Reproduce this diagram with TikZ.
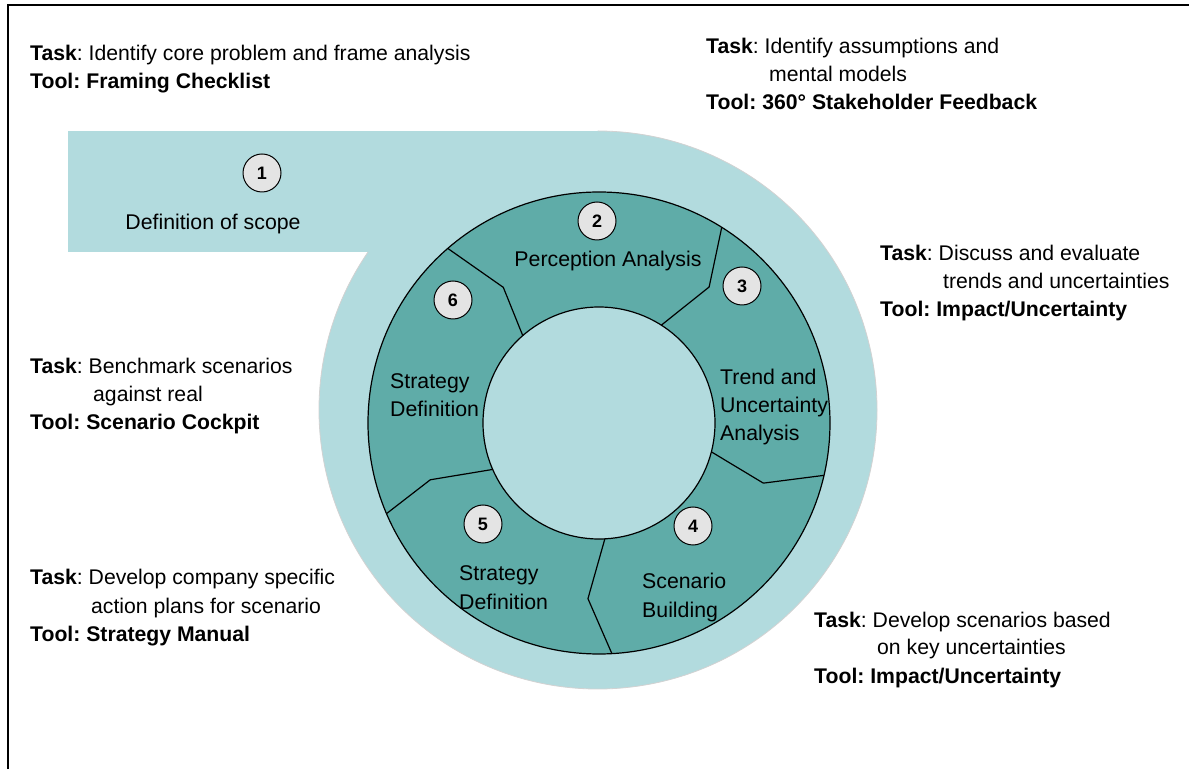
\documentclass[tikz,border=0pt]{standalone}
\usepackage{fontspec}
\setmainfont{Liberation Sans}
\definecolor{lightteal}{HTML}{B2DBDE}
\definecolor{darkteal}{HTML}{5FACA8}
\definecolor{badgegray}{HTML}{E4E4E4}
\frenchspacing
\begin{document}
\begin{tikzpicture}[x=1pt,y=1pt,
  side/.style={anchor=base west,inner sep=0pt,font=\fontsize{21.2}{28}\selectfont},
  ringlbl/.style={anchor=base west,inner sep=0pt,font=\fontsize{21.3}{28}\selectfont},
  badge/.style={circle,draw=black,line width=1pt,fill=badgegray,minimum size=38pt,inner sep=0pt,font=\bfseries\fontsize{18}{18}\selectfont},
  divider/.style={draw=black,line width=1.2pt,line join=round}]
\useasboundingbox (0,0) rectangle (1189,769);
% frame
\draw[line width=2.5pt] (8,0) -- (8,764) -- (1189,764);
% light spiral background
\coordinate (bigc) at (598,359);
\fill[lightteal] (68,517) rectangle (598,638);
\fill[lightteal] (bigc) circle (279pt);
\draw[gray!35,line width=0.8pt] (bigc) ++(145.5:279) arc[start angle=145.5,end angle=450,radius=279pt];
% ring
\coordinate (rc) at (599,346);
\filldraw[fill=darkteal,draw=black,line width=1.2pt] (rc) circle (231pt);
\filldraw[fill=lightteal,draw=black,line width=1.2pt] (rc) circle (116pt);
% dividers
\begin{scope}[shift={(599,346)}]
\draw[divider] (130.9:231) -- (125.2:166) -- (131.1:116);
\draw[divider] (57.9:231) -- (51.0:175) -- (57.5:116);
\draw[divider] (-14.4:116) -- (-20.1:175) -- (-13.1:231);
\draw[divider] (-87.1:116) -- (-93.6:176) -- (-86.8:231);
\draw[divider] (203.6:116) -- (198.6:178) -- (203.1:231);
\end{scope}
% badges
\node[badge] (b1) at (262,596) {1};
\node[badge] (b2) at (597,548) {2};
\node[badge] (b3) at (742,483) {3};
\node[badge] (b4) at (693,243) {4};
\node[badge] (b5) at (483,245) {5};
\node[badge] (b6) at (453,469) {6};
% ring labels
\node[ringlbl,anchor=base] (l1) at (213,539) {Definition of scope};
\node[ringlbl,anchor=base] (l2) at (608,502.5) {Perception Analysis};
\node[ringlbl] (l3a) at (720,384) {Trend and};
\node[ringlbl] (l3b) at (720,356) {Uncertainty};
\node[ringlbl] (l3c) at (720,328) {Analysis};
\node[ringlbl] (l6a) at (390,380) {Strategy};
\node[ringlbl] (l6b) at (390,352) {Definition};
\node[ringlbl] (l5a) at (459,188) {Strategy};
\node[ringlbl] (l5b) at (459,160) {Definition};
\node[ringlbl] (l4a) at (642,180) {Scenario};
\node[ringlbl] (l4b) at (642,152) {Building};
% side texts
\node[side] (t1a) at (30,708) {\textbf{Task}: Identify core problem and frame analysis};
\node[side] (t1b) at (30,680) {\textbf{Tool: Framing Checklist}};
\node[side] (t2a) at (706,715) {\textbf{Task}: Identify assumptions and};
\node[side] (t2b) at (769,687) {mental models};
\node[side] (t2c) at (706,659) {\textbf{Tool: 360° Stakeholder Feedback}};
\node[side] (t3a) at (880,508) {\textbf{Task}: Discuss and evaluate};
\node[side] (t3b) at (943,480) {trends and uncertainties};
\node[side] (t3c) at (880,452) {\textbf{Tool: Impact/Uncertainty}};
\node[side] (t6a) at (30,395) {\textbf{Task}: Benchmark scenarios};
\node[side] (t6b) at (93,367) {against real};
\node[side] (t6c) at (30,339) {\textbf{Tool: Scenario Cockpit}};
\node[side] (t5a) at (30,184) {\textbf{Task}: Develop company specific};
\node[side] (t5b) at (91,156) {action plans for scenario};
\node[side] (t5c) at (30,128) {\textbf{Tool: Strategy Manual}};
\node[side] (t4a) at (814,142) {\textbf{Task}: Develop scenarios based};
\node[side] (t4b) at (877,114) {on key uncertainties};
\node[side] (t4c) at (814,86) {\textbf{Tool: Impact/Uncertainty}};
\end{tikzpicture}
\end{document}
